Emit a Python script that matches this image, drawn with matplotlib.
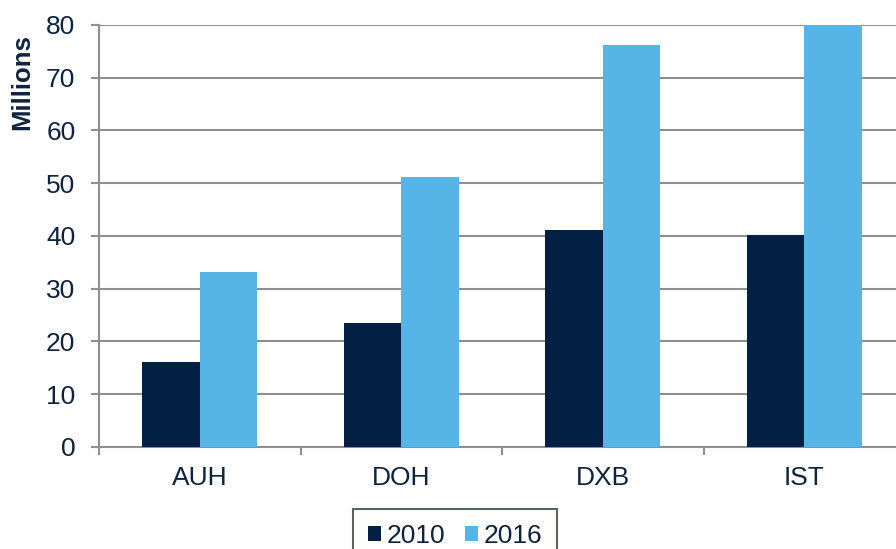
import matplotlib as mpl
import matplotlib.pyplot as plt
import numpy as np
from matplotlib.ticker import FixedLocator

mpl.rcParams["font.family"] = ["Liberation Sans", "DejaVu Sans"]

airports = ["AUH", "DOH", "DXB", "IST"]
years = ["2010", "2016"]
pax_2010 = [16.1, 23.5, 41.1, 40.2]
pax_2016 = [33.2, 51.2, 76.2, 80.0]
y_ticks = [0, 10, 20, 30, 40, 50, 60, 70, 80]

navy = "#012043"
light_blue = "#56b5e6"
grid_grey = "#8e8f93"
text_col = "#0d2340"

fig = plt.figure(figsize=(8.96, 5.49), dpi=100)
# right edge of the plot is cut off in the original, so the axes run past the figure
ax = fig.add_axes([0.1105, 0.1858, 0.8996, 0.7687])

x = np.arange(len(airports))
w = 0.285
ax.bar(x - w / 2, pax_2010, width=w, color=navy, label=years[0], zorder=3)
ax.bar(x + w / 2, pax_2016, width=w, color=light_blue, label=years[1], zorder=3)

ax.set_xlim(-0.5, 3.5)
ax.set_ylim(0, 80)
ax.set_yticks(y_ticks)
ax.yaxis.grid(True, color=grid_grey, lw=1.5, zorder=0)
ax.set_axisbelow(True)

ax.set_xticks(x)
ax.set_xticklabels(airports)
ax.xaxis.set_minor_locator(FixedLocator(np.arange(-0.5, 4.0, 1.0)))
ax.tick_params("x", which="major", length=0, pad=13.5, labelsize=19, labelcolor=text_col)
ax.tick_params("x", which="minor", length=5.5, width=1.5, color=grid_grey)
ax.tick_params("y", length=6, width=1.5, color=grid_grey, labelsize=19,
               labelcolor=text_col, pad=11)

for side in ["top", "right"]:
    ax.spines[side].set_visible(False)
ax.spines["left"].set_color(grid_grey)
ax.spines["left"].set_linewidth(1.5)
ax.spines["bottom"].set_color(grid_grey)
ax.spines["bottom"].set_linewidth(1.5)

fig.text(0.025, 0.851, "Millions", rotation=90, ha="center", va="center",
         fontsize=18.5, fontweight="bold", color=text_col)

leg = fig.legend(loc="upper center", bbox_to_anchor=(455 / 896, 1 - 509 / 549),
                 ncol=2, fontsize=19, frameon=True, fancybox=False,
                 handlelength=0.5, handleheight=0.5, handletextpad=0.2,
                 columnspacing=0.76, borderpad=0.55, borderaxespad=0)
leg.get_frame().set_edgecolor("#2f3f33")
leg.get_frame().set_linewidth(1.5)
for t in leg.get_texts():
    t.set_color(text_col)

fig.savefig("out.png", dpi=100)
